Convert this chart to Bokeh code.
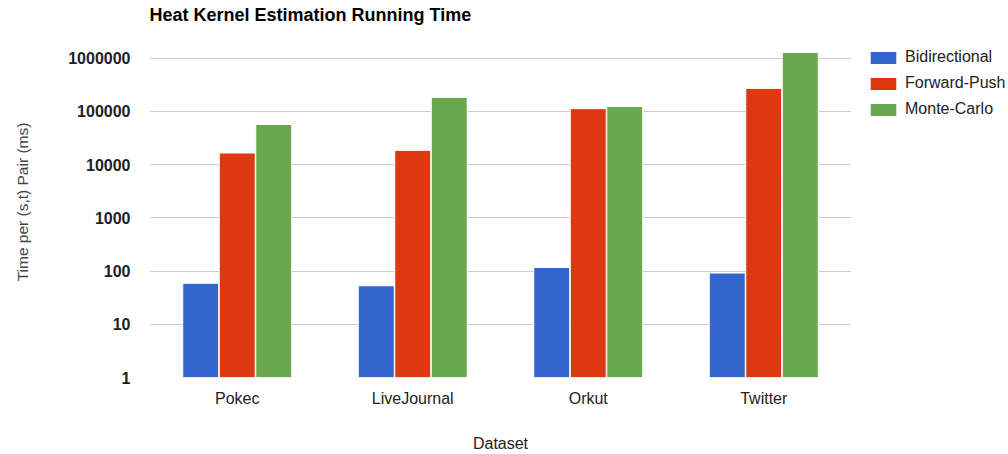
from bokeh.plotting import figure
from bokeh.layouts import row
from bokeh.models import (ColumnDataSource, FactorRange, Range1d, Legend, LegendItem,
                          FixedTicker, NumeralTickFormatter)
from bokeh.transform import dodge
from bokeh.embed import file_html
from bokeh.resources import INLINE

datasets = ["Pokec", "LiveJournal", "Orkut", "Twitter"]
series_names = ["Bidirectional", "Forward-Push", "Monte-Carlo"]
bidirectional = [59, 53, 117, 92]
forward_push = [16600, 18600, 113000, 272000]
monte_carlo = [57000, 184000, 124000, 1290000]
y_ticks = [1, 10, 100, 1000, 10000, 100000, 1000000]
colors = ["#3366cc", "#dc3912", "#6aa84f"]

source = ColumnDataSource(dict(dataset=datasets, bi=bidirectional, fp=forward_push,
                               mc=monte_carlo, base=[1] * len(datasets)))

p = figure(width=851, height=454, output_backend="svg", toolbar_location=None,
           x_range=FactorRange(*datasets, range_padding=0),
           y_range=Range1d(1, 3.96e6), y_axis_type="log",
           min_border_left=149, min_border_right=0, min_border_top=25,
           min_border_bottom=76)

p.title.text = "Heat Kernel Estimation Running Time"
p.title.text_font = "Liberation Sans"
p.title.text_font_size = "18px"
p.title.text_font_style = "bold"
p.title.text_color = "#000000"
p.title.align = "left"
p.title.offset = 0
p.title.standoff = 4

p.outline_line_color = None
p.background_fill_color = "white"
p.border_fill_color = "white"

offs = [-0.208, 0.0, 0.208]
keys = ["bi", "fp", "mc"]
for k, off, c in zip(keys, offs, colors):
    p.vbar(x=dodge("dataset", off, range=p.x_range), top=k, bottom="base",
           width=0.205, source=source, fill_color=c, line_color="white", line_width=1)

# axes
p.xaxis.axis_line_color = None
p.xaxis.major_tick_line_color = None
p.xaxis.minor_tick_line_color = None
p.xaxis.major_tick_out = 0
p.xaxis.major_label_standoff = 12
p.xaxis.major_label_text_font = "Liberation Sans"
p.xaxis.major_label_text_font_size = "16px"
p.xaxis.major_label_text_color = "#222222"
p.xaxis.axis_label = "Dataset"
p.xaxis.axis_label_text_font = "Liberation Sans"
p.xaxis.axis_label_text_font_size = "16px"
p.xaxis.axis_label_text_font_style = "normal"
p.xaxis.axis_label_text_color = "#222222"
p.xaxis.axis_label_standoff = 25

p.yaxis.ticker = FixedTicker(ticks=y_ticks)
p.yaxis.formatter = NumeralTickFormatter(format="0")
p.yaxis.axis_line_color = None
p.yaxis.major_tick_line_color = None
p.yaxis.minor_tick_line_color = None
p.yaxis.major_tick_out = 0
p.yaxis.major_label_standoff = 19
p.yaxis.major_label_text_font = "Liberation Sans"
p.yaxis.major_label_text_font_size = "16px"
p.yaxis.major_label_text_font_style = "bold"
p.yaxis.major_label_text_color = "#222222"
p.yaxis.axis_label = "Time per (s,t) Pair (ms)"
p.yaxis.axis_label_text_font = "Liberation Sans"
p.yaxis.axis_label_text_font_size = "15.5px"
p.yaxis.axis_label_text_font_style = "normal"
p.yaxis.axis_label_text_color = "#444444"
p.yaxis.axis_label_standoff = 34

p.xgrid.grid_line_color = None
p.ygrid.ticker = FixedTicker(ticks=y_ticks)
p.ygrid.grid_line_color = "#cccccc"
p.ygrid.grid_line_width = 1

# legend panel on the right (its own bars are hairline-thin and outside its visible range)
lf = figure(width=157, height=454, output_backend="svg", toolbar_location=None,
            x_range=FactorRange(*datasets), y_range=Range1d(1e8, 2e8), title=None,
            x_axis_location=None, y_axis_location=None,
            min_border_left=0, min_border_right=0, min_border_top=25, min_border_bottom=0)
lf.outline_line_color = None
lf.xgrid.grid_line_color = None
lf.ygrid.grid_line_color = None
lf.background_fill_color = "white"
lf.border_fill_color = "white"
items = []
for n, k, c in zip(series_names, keys, colors):
    r = lf.vbar(x="dataset", top=k, bottom="base", width=0.0001, source=source,
                fill_color=c, line_color=None)
    items.append(LegendItem(label=n, renderers=[r]))
legend = Legend(items=items, location=(16, 259), orientation="vertical",
                glyph_width=32, glyph_height=15, label_height=16, spacing=8,
                label_standoff=6, padding=0, margin=0,
                border_line_color=None, background_fill_alpha=0,
                label_text_font="Liberation Sans", label_text_font_size="16px",
                label_text_color="#222222")
lf.add_layout(legend, "center")

layout = row(p, lf, spacing=0)
open("out.html", "w").write(file_html(layout, INLINE))
